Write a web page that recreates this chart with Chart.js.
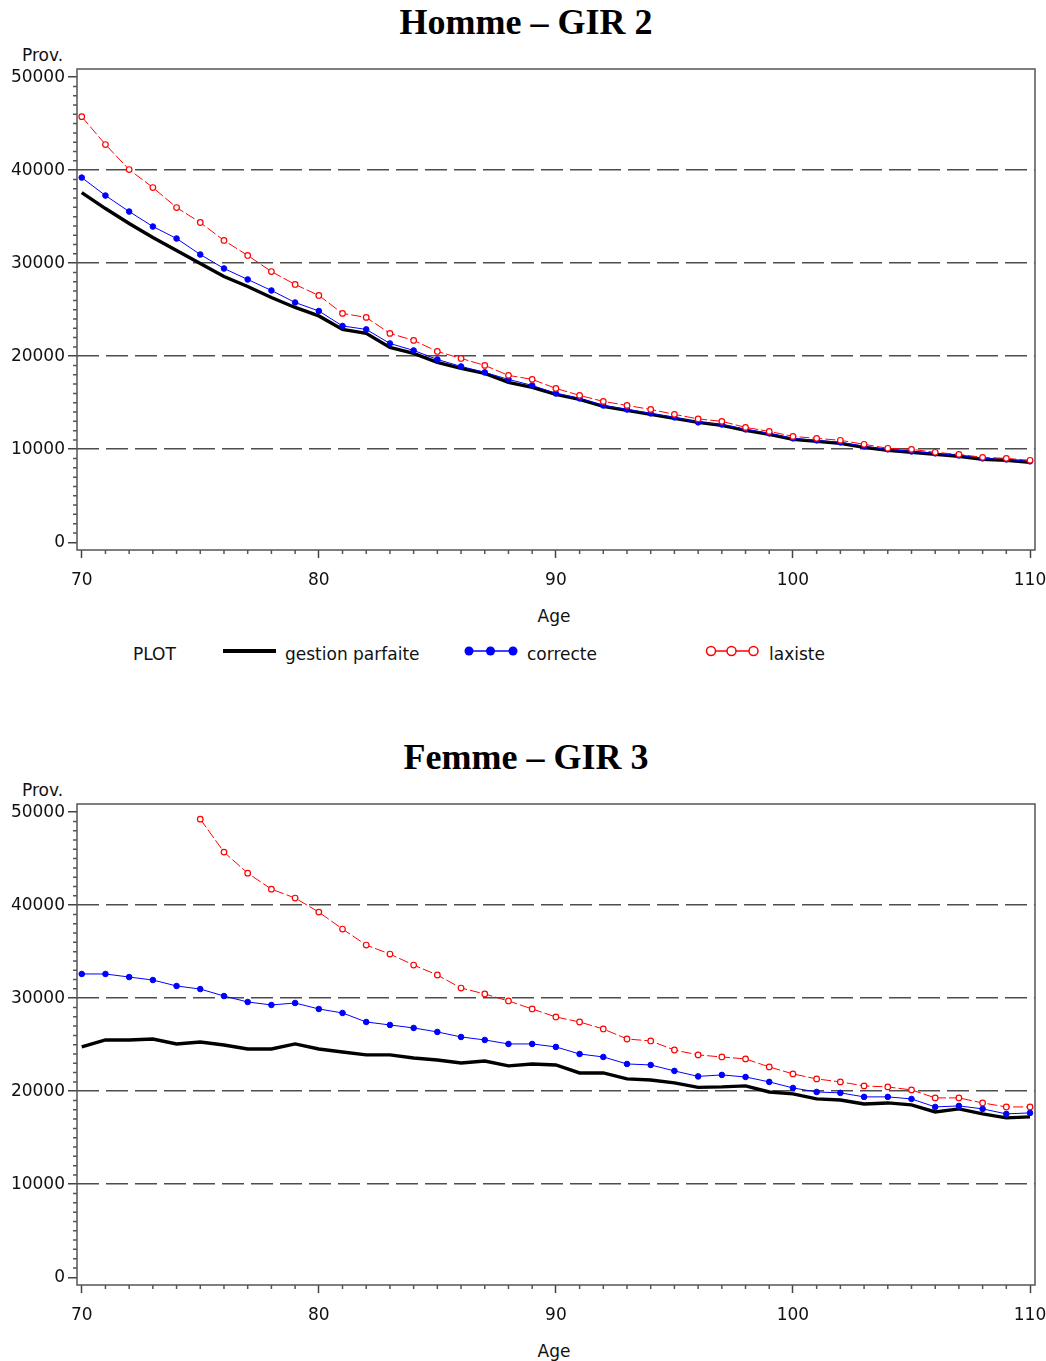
<!DOCTYPE html>
<html lang="fr">
<head>
    <meta charset="UTF-8">
    <title>Provisions GIR</title>
    <script src="https://cdn.jsdelivr.net/npm/chart.js"></script>
    <style>
        * {
            margin: 0;
            padding: 0;
            box-sizing: border-box;
        }

        body {
            width: 1046px;
            height: 1361px;
            background: #fff;
            position: relative;
            overflow: hidden;
            font-family: 'DejaVu Sans', sans-serif;
            color: #111;
        }

        .panel {
            position: absolute;
            left: 0;
            width: 1046px;
            height: 680px;
        }

        .title {
            position: absolute;
            left: 0;
            top: 2px;
            width: 1052px;
            text-align: center;
            font-family: 'Liberation Serif', serif;
            font-weight: bold;
            font-size: 36px;
            line-height: 40px;
            color: #000;
        }

        .txt {
            position: absolute;
            font-size: 17px;
            line-height: 20px;
            white-space: nowrap;
        }

        canvas {
            position: absolute;
            left: 0;
            top: 60px;
        }
    </style>
</head>
<body>
    <div class="panel" style="top:0">
        <div class="title">Homme – GIR 2</div>
        <div class="txt" style="left:22px; top:45px">Prov.</div>
        <canvas id="chartHomme" width="1046" height="530"></canvas>
        <div class="txt" style="left:504px; width:100px; text-align:center; top:606px">Age</div>

        <div class="txt" style="left:133px; top:644px">PLOT</div>
        <svg style="position:absolute; left:220px; top:644px" width="60" height="16">
            <line x1="3" y1="7" x2="56" y2="7" stroke="#000" stroke-width="4"/>
        </svg>
        <div class="txt" style="left:285px; top:644px">gestion parfaite</div>
        <svg style="position:absolute; left:460px; top:644px" width="62" height="16">
            <line x1="9" y1="7" x2="53" y2="7" stroke="#0000ff" stroke-width="1.5"/>
            <circle cx="9" cy="7" r="4.5" fill="#0000ff"/>
            <circle cx="30.5" cy="7" r="4.5" fill="#0000ff"/>
            <circle cx="53" cy="7" r="4.5" fill="#0000ff"/>
        </svg>
        <div class="txt" style="left:527px; top:644px">correcte</div>
        <svg style="position:absolute; left:702px; top:644px" width="62" height="16">
            <line x1="4" y1="7" x2="56" y2="7" stroke="#ff0000" stroke-width="1.5"/>
            <circle cx="9" cy="7" r="4.5" fill="#fff" stroke="#ff0000" stroke-width="1.5"/>
            <circle cx="29.5" cy="7" r="4.5" fill="#fff" stroke="#ff0000" stroke-width="1.5"/>
            <circle cx="51.5" cy="7" r="4.5" fill="#fff" stroke="#ff0000" stroke-width="1.5"/>
        </svg>
        <div class="txt" style="left:769px; top:644px">laxiste</div>
    </div>

    <div class="panel" style="top:735px">
        <div class="title">Femme – GIR 3</div>
        <div class="txt" style="left:22px; top:45px">Prov.</div>
        <canvas id="chartFemme" width="1046" height="530"></canvas>
        <div class="txt" style="left:504px; width:100px; text-align:center; top:606px">Age</div>
    </div>

    <script>
        const ages = [70, 71, 72, 73, 74, 75, 76, 77, 78, 79,
                      80, 81, 82, 83, 84, 85, 86, 87, 88, 89,
                      90, 91, 92, 93, 94, 95, 96, 97, 98, 99,
                      100, 101, 102, 103, 104, 105, 106, 107, 108, 109, 110];

        // Homme - GIR 2
        const gestionHomme = [37590, 35870, 34260, 32760, 31360, 29960, 28570, 27490, 26310, 25240,
                              24330, 22880, 22450, 20940, 20300, 19330, 18690, 18150, 17180, 16650,
                              15900, 15360, 14610, 14180, 13750, 13320, 12890, 12570, 12030, 11600,
                              11060, 10850, 10630, 10200, 9880, 9670, 9450, 9240, 8910, 8810, 8590];
        const correcteHomme = [39200, 37270, 35550, 33940, 32650, 30930, 29430, 28250, 27065, 25775,
                               24860, 23250, 22880, 21370, 20620, 19650, 18900, 18260, 17510, 16860,
                               16000, 15470, 14710, 14280, 13850, 13430, 12890, 12670, 12140, 11710,
                               11170, 10950, 10740, 10310, 9990, 9770, 9560, 9340, 9020, 8910, 8700];
        const laxisteHomme = [45750, 42750, 40060, 38130, 35980, 34370, 32440, 30830, 29100, 27710,
                              26530, 24600, 24170, 22450, 21700, 20510, 19760, 19010, 17940, 17510,
                              16540, 15790, 15140, 14710, 14280, 13750, 13260, 13000, 12350, 11920,
                              11380, 11170, 10960, 10530, 10100, 9990, 9670, 9450, 9130, 9020, 8810];

        // Femme - GIR 3
        const gestionFemme = [24760, 25510, 25510, 25610, 25080, 25290, 24970, 24540, 24540, 25080,
                              24540, 24220, 23900, 23900, 23570, 23360, 23040, 23250, 22720, 22930,
                              22820, 21960, 21960, 21320, 21210, 20890, 20410, 20460, 20570, 19920,
                              19710, 19170, 19060, 18630, 18740, 18530, 17770, 18100, 17560, 17130, 17240];
        const correcteFemme = [32600, 32600, 32270, 31950, 31310, 30980, 30230, 29590, 29270, 29480,
                               28840, 28410, 27440, 27120, 26800, 26370, 25830, 25510, 25080, 25080,
                               24760, 24000, 23680, 22930, 22820, 22180, 21590, 21750, 21530, 21000,
                               20350, 19920, 19820, 19390, 19390, 19170, 18310, 18420, 18100, 17560, 17670];
        const laxisteFemme = [null, null, null, null, null, 49240, 45700, 43440, 41720, 40760,
                              39250, 37430, 35710, 34740, 33560, 32490, 31090, 30450, 29700, 28840,
                              27980, 27440, 26690, 25610, 25400, 24430, 23900, 23680, 23470, 22610,
                              21860, 21320, 21000, 20570, 20460, 20140, 19280, 19280, 18740, 18310, 18310];

        const yLabels = [0, 10000, 20000, 30000, 40000, 50000];
        const xLabels = [70, 80, 90, 100, 110];

        // every 1000 on y, every year on x (minor ticks included)
        const yTickValues = [];
        for (let v = 0; v <= 50000; v += 1000) yTickValues.push(v);

        Chart.defaults.font.family = "'DejaVu Sans', sans-serif";
        Chart.defaults.font.size = 17;
        Chart.defaults.color = '#111';

        // frame round the plot plus the short minor ticks
        const framePlugin = {
            id: 'frame',
            afterDraw(chart) {
                const { ctx, chartArea: a, scales: { x, y } } = chart;
                ctx.save();
                ctx.strokeStyle = '#555';
                ctx.lineWidth = 1.5;
                ctx.strokeRect(a.left, a.top, a.right - a.left, a.bottom - a.top);
                ctx.beginPath();
                x.ticks.forEach(t => {
                    if (!xLabels.includes(t.value)) {
                        const px = x.getPixelForValue(t.value);
                        ctx.moveTo(px, a.bottom);
                        ctx.lineTo(px, a.bottom + 4);
                    }
                });
                y.ticks.forEach(t => {
                    if (!yLabels.includes(t.value)) {
                        const py = y.getPixelForValue(t.value);
                        ctx.moveTo(a.left - 4, py);
                        ctx.lineTo(a.left, py);
                    }
                });
                ctx.stroke();
                ctx.restore();
            }
        };

        function noPad(s) {
            s.paddingLeft = 0;
            s.paddingRight = 0;
            s.paddingTop = 0;
            s.paddingBottom = 0;
        }

        function pairs(values) {
            return ages.map((a, i) => ({ x: a, y: values[i] }));
        }

        function makeChart(id, gestion, correcte, laxiste) {
            return new Chart(document.getElementById(id), {
                type: 'line',
                data: {
                    datasets: [{
                        label: 'gestion parfaite',
                        data: pairs(gestion),
                        borderColor: '#000',
                        borderWidth: 3.4,
                        pointRadius: 0,
                        order: 3
                    }, {
                        label: 'correcte',
                        data: pairs(correcte),
                        borderColor: '#0000ff',
                        borderWidth: 1,
                        pointRadius: 2.8,
                        pointBackgroundColor: '#0000ff',
                        pointBorderColor: '#0000ff',
                        pointBorderWidth: 1,
                        order: 2
                    }, {
                        label: 'laxiste',
                        data: pairs(laxiste),
                        borderColor: '#ff0000',
                        borderWidth: 1,
                        borderDash: [10, 3],
                        pointRadius: 2.8,
                        pointBackgroundColor: '#fff',
                        pointBorderColor: '#ff0000',
                        pointBorderWidth: 1.2,
                        spanGaps: false,
                        order: 1
                    }]
                },
                options: {
                    responsive: false,
                    animation: false,
                    devicePixelRatio: 1,
                    layout: {
                        padding: { top: 9, right: 11, left: 0, bottom: 0 }
                    },
                    plugins: {
                        legend: { display: false },
                        tooltip: { enabled: false }
                    },
                    scales: {
                        x: {
                            type: 'linear',
                            min: 69.8,
                            max: 110.21,
                            afterBuildTicks: s => { s.ticks = ages.map(v => ({ value: v })); },
                            afterFit: s => { s.height = 40; noPad(s); },
                            ticks: {
                                autoSkip: false,
                                maxRotation: 0,
                                padding: 12,
                                callback: v => xLabels.includes(v) ? String(v) : ''
                            },
                            grid: {
                                drawOnChartArea: false,
                                tickLength: 8,
                                tickWidth: 1.5,
                                tickColor: c => xLabels.includes(c.tick.value) ? '#444' : 'transparent'
                            },
                            border: { display: false }
                        },
                        y: {
                            min: -830,
                            max: 50870,
                            afterBuildTicks: s => { s.ticks = yTickValues.map(v => ({ value: v })); },
                            afterFit: s => { s.width = 77; noPad(s); },
                            ticks: {
                                autoSkip: false,
                                padding: 3,
                                callback: v => yLabels.includes(v) ? String(v) : ''
                            },
                            grid: {
                                color: c => (yLabels.includes(c.tick.value) && c.tick.value > 0 && c.tick.value < 50000) ? '#4d4d4d' : 'transparent',
                                lineWidth: 1.5,
                                tickLength: 9,
                                tickWidth: 1.5,
                                tickColor: c => yLabels.includes(c.tick.value) ? '#444' : 'transparent'
                            },
                            border: { display: false, dash: [22, 7] }
                        }
                    }
                },
                plugins: [framePlugin]
            });
        }

        makeChart('chartHomme', gestionHomme, correcteHomme, laxisteHomme);
        makeChart('chartFemme', gestionFemme, correcteFemme, laxisteFemme);
    </script>
</body>
</html>
